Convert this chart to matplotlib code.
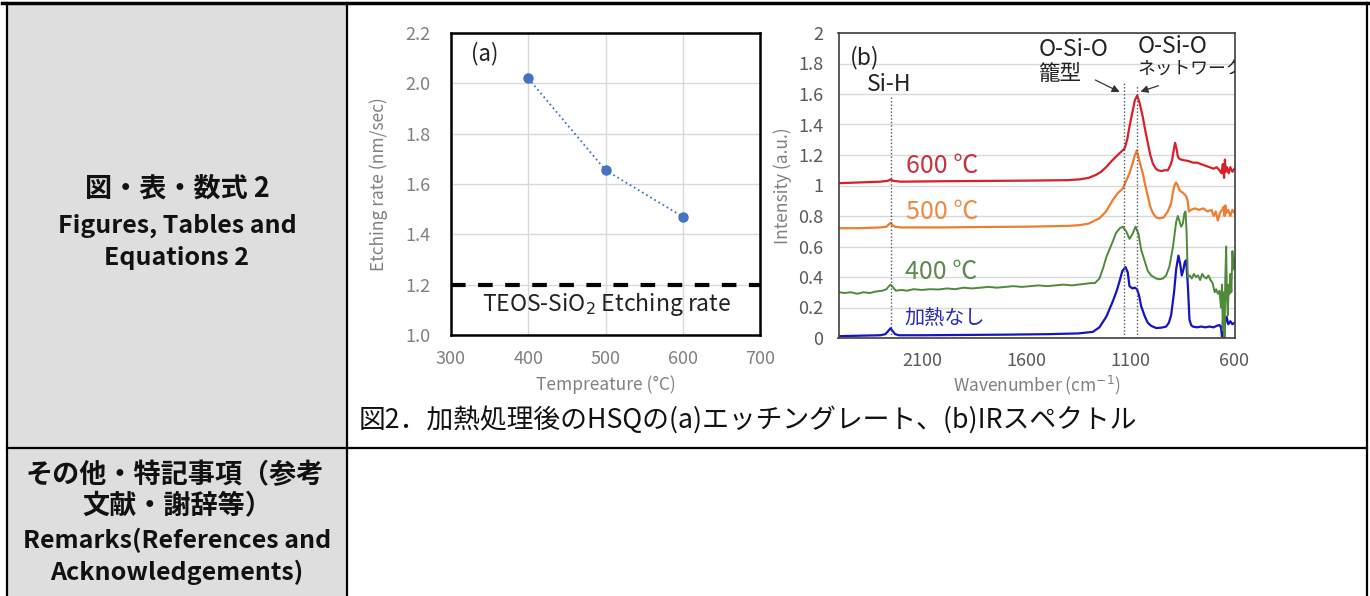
import numpy as np
import matplotlib
matplotlib.use("Agg")
import matplotlib.pyplot as plt
from matplotlib.patches import Rectangle

plt.rcParams['font.family'] = ['Noto Sans CJK JP', 'DejaVu Sans']

# ---- data: (a) etching rate ----
temps = [400, 500, 600]
rates = [2.02, 1.655, 1.47]
teos_rate = 1.2

# ---- data: (b) IR spectra (wavenumber cm-1, intensity a.u.) ----
wn_none = [2500, 2400, 2300, 2275, 2262, 2250, 2240, 2228, 2210, 2100, 1900, 1700, 1500, 1350,
           1280, 1248, 1215, 1184, 1165, 1152, 1138, 1123, 1112, 1104, 1090, 1078, 1068, 1058,
           1048, 1030, 1016, 1000, 976, 950, 928, 915, 904, 890, 880, 869, 860, 853, 845, 838,
           832, 824, 816, 808, 800, 780, 760, 740, 720, 700, 685, 672, 665, 660, 655, 650, 645,
           638, 630, 620, 610, 600]
int_none = [0.012, 0.015, 0.018, 0.025, 0.045, 0.064, 0.045, 0.025, 0.018, 0.018, 0.02, 0.022,
            0.025, 0.03, 0.04, 0.07, 0.14, 0.24, 0.31, 0.37, 0.44, 0.465, 0.43, 0.34, 0.325,
            0.33, 0.32, 0.28, 0.21, 0.14, 0.10, 0.08, 0.065, 0.068, 0.075, 0.10, 0.15, 0.30,
            0.45, 0.54, 0.48, 0.41, 0.45, 0.50, 0.51, 0.35, 0.12, 0.085, 0.075, 0.07, 0.075,
            0.07, 0.075, 0.07, 0.08, 0.085, 0.07, 0.01, 0.12, 0.06, 0.10, 0.14, 0.09, 0.11,
            0.09, 0.10]

wn_400 = [2500, 2470, 2440, 2410, 2380, 2350, 2320, 2290, 2270, 2258, 2250, 2240, 2225, 2200,
          2170, 2140, 2100, 2060, 2020, 1980, 1940, 1900, 1860, 1820, 1780, 1740, 1700, 1660,
          1620, 1580, 1540, 1500, 1460, 1420, 1380, 1350, 1320, 1290, 1270, 1248, 1230, 1215,
          1200, 1185, 1168, 1150, 1136, 1120, 1104, 1090, 1075, 1060, 1048, 1030, 1016, 1000,
          976, 960, 944, 928, 912, 895, 880, 872, 865, 856, 848, 840, 835, 830, 824, 815, 805,
          795, 785, 775, 765, 755, 745, 735, 725, 715, 705, 695, 688, 680, 672, 665, 660, 656,
          652, 648, 644, 640, 636, 632, 628, 624, 620, 615, 610, 605, 600]
int_400 = [0.30, 0.295, 0.30, 0.29, 0.30, 0.295, 0.305, 0.31, 0.32, 0.34, 0.35, 0.335, 0.31,
           0.315, 0.31, 0.32, 0.315, 0.32, 0.318, 0.325, 0.32, 0.33, 0.325, 0.33, 0.335, 0.33,
           0.335, 0.34, 0.335, 0.34, 0.345, 0.34, 0.345, 0.35, 0.345, 0.35, 0.355, 0.36, 0.36,
           0.39, 0.46, 0.53, 0.58, 0.63, 0.69, 0.72, 0.73, 0.70, 0.65, 0.68, 0.73, 0.68, 0.58,
           0.50, 0.44, 0.41, 0.39, 0.385, 0.39, 0.41, 0.47, 0.60, 0.76, 0.80, 0.77, 0.73, 0.75,
           0.82, 0.83, 0.70, 0.40, 0.41, 0.39, 0.42, 0.40, 0.41, 0.38, 0.42, 0.40, 0.39, 0.41,
           0.38, 0.36, 0.30, 0.32, 0.29, 0.31, 0.20, 0.35, 0.05, 0.30, 0.0, 0.40, 0.60, 0.25,
           0.15, 0.35, 0.29, 0.42, 0.30, 0.57, 0.45, 0.52]

wn_500 = [2500, 2400, 2300, 2270, 2258, 2250, 2242, 2230, 2200, 2000, 1800, 1600, 1400, 1344,
          1300, 1248, 1216, 1184, 1160, 1136, 1120, 1104, 1090, 1080, 1069, 1058, 1040, 1028,
          1016, 1004, 992, 976, 960, 940, 920, 905, 896, 888, 880, 872, 864, 856, 845, 832, 825,
          819, 810, 790, 770, 750, 730, 710, 700, 690, 680, 670, 660, 652, 648, 644, 640, 630,
          620, 610, 600]
int_500 = [0.72, 0.72, 0.725, 0.73, 0.745, 0.755, 0.74, 0.73, 0.725, 0.725, 0.728, 0.73, 0.735,
           0.74, 0.75, 0.785, 0.83, 0.905, 0.95, 0.98, 1.03, 1.08, 1.14, 1.19, 1.23, 1.17, 1.08,
           1.00, 0.93, 0.86, 0.82, 0.79, 0.785, 0.79, 0.83, 0.88, 0.95, 1.00, 1.02, 1.00, 0.97,
           0.96, 0.95, 0.93, 0.90, 0.83, 0.84, 0.85, 0.84, 0.85, 0.83, 0.84, 0.80, 0.83, 0.77,
           0.82, 0.84, 0.86, 0.80, 0.87, 0.82, 0.84, 0.80, 0.84, 0.82]

wn_600 = [2500, 2400, 2300, 2265, 2250, 2235, 2200, 2000, 1800, 1600, 1400, 1344, 1300, 1264,
          1240, 1216, 1190, 1168, 1145, 1128, 1115, 1104, 1090, 1078, 1067, 1055, 1040, 1028,
          1016, 1004, 992, 980, 968, 950, 935, 920, 908, 899, 892, 885, 878, 872, 864, 856, 840,
          820, 800, 780, 760, 740, 720, 700, 686, 672, 662, 656, 650, 646, 642, 636, 628, 620,
          610, 600]
int_600 = [1.015, 1.02, 1.025, 1.03, 1.04, 1.03, 1.025, 1.028, 1.03, 1.032, 1.035, 1.04, 1.05,
           1.07, 1.09, 1.12, 1.16, 1.19, 1.22, 1.24, 1.30, 1.385, 1.48, 1.56, 1.59, 1.54, 1.45,
           1.36, 1.28, 1.20, 1.145, 1.115, 1.10, 1.095, 1.10, 1.10, 1.13, 1.17, 1.23, 1.28, 1.24,
           1.19, 1.175, 1.17, 1.165, 1.16, 1.15, 1.15, 1.14, 1.13, 1.12, 1.11, 1.12, 1.10, 1.08,
           1.14, 1.05, 1.17, 1.09, 1.12, 1.08, 1.12, 1.09, 1.11]

peak_lines = [2250, 1130, 1070]
peak_tops = [1.59, 1.67, 1.65]

W, H = 1370, 596
fig = plt.figure(figsize=(W / 100, H / 100), dpi=100)

# ---- table background drawn in pixel coordinates ----
bg = fig.add_axes([0, 0, 1, 1])
bg.set_xlim(0, W)
bg.set_ylim(H, 0)
bg.axis('off')
bg.add_patch(Rectangle((7, 3), 340, H, facecolor='#dedede', edgecolor='none'))
bg.plot([2, 1368], [3, 3], color='black', lw=2.5)
bg.plot([7, 7], [3, H], color='black', lw=1.6)
bg.plot([347, 347], [3, H], color='black', lw=1.6)
bg.plot([1367, 1367], [3, H], color='black', lw=1.6)
bg.plot([7, 1367], [448, 448], color='black', lw=1.6)

cell_style = dict(ha='center', va='center', fontsize=18, fontweight='bold', color='#111111')
jp_style = dict(cell_style, fontsize=19.5)
bg.text(177, 189, '図・表・数式 2', **jp_style)
bg.text(177, 226, 'Figures, Tables and', **cell_style)
bg.text(177, 258, 'Equations 2', **cell_style)
bg.text(175, 475, 'その他・特記事項（参考', **jp_style)
bg.text(177, 506, '文献・謝辞等）', **jp_style)
bg.text(177, 540, 'Remarks(References and', **cell_style)
bg.text(177, 572, 'Acknowledgements)', **cell_style)
bg.text(359, 420, '図2．加熱処理後のHSQの(a)エッチングレート、(b)IRスペクトル', ha='left',
        va='center', fontsize=19.3, color='#111111')

# ---- (a) etching rate ----
ax1 = fig.add_axes([451 / W, 1 - 335 / H, 309 / W, 302 / H])
ax1.plot(temps, rates, ':', color='#4472c4', lw=1.3, zorder=3)
ax1.plot(temps, rates, 'o', color='#4472c4', ms=6.5, zorder=4)
ax1.axhline(teos_rate, color='black', lw=3, dashes=(3.5, 3), zorder=3)
ax1.set_xlim(300, 700)
ax1.set_ylim(1.0, 2.2)
ax1.set_xticks([300, 400, 500, 600, 700])
ax1.set_yticks(np.arange(1.0, 2.21, 0.2))
ax1.yaxis.set_major_formatter(matplotlib.ticker.FormatStrFormatter('%.1f'))
ax1.grid(True, color='#d9d9d9', lw=1)
ax1.set_axisbelow(True)
for s in ax1.spines.values():
    s.set_color('black')
    s.set_linewidth(1.8)
ax1.tick_params(axis='y', length=0, labelsize=13, colors='#808080', pad=15)
ax1.tick_params(axis='x', length=0, labelsize=13, colors='#808080', pad=11)
ax1.set_xlabel('Tempreature (°C)', fontsize=12.5, color='#808080', labelpad=5)
ax1.set_ylabel('Etching rate (nm/sec)', fontsize=12.5, color='#808080', labelpad=12)
ax1.text(344, 2.12, '(a)', fontsize=16, ha='center', va='center', color='#222222')
ax1.text(501, 1.12, 'TEOS-SiO$_2$ Etching rate', fontsize=16.5, ha='center', va='center',
         color='#222222')

# ---- (b) IR spectra ----
ax2 = fig.add_axes([838.5 / W, 1 - 338 / H, 396 / W, 305 / H])
ax2.plot(wn_none, int_none, color='#1414c0', lw=1.6)
ax2.plot(wn_400, int_400, color='#4f8a3a', lw=1.4)
ax2.plot(wn_500, int_500, color='#ed7d31', lw=1.6)
ax2.plot(wn_600, int_600, color='#d81f2a', lw=1.6)
for x, top in zip(peak_lines, peak_tops):
    ax2.plot([x, x], [0, top], color='#555555', lw=1, ls=(0, (1, 1.5)))
ax2.set_xlim(2500, 600)
ax2.set_ylim(0, 2)
ax2.set_xticks([2100, 1600, 1100, 600])
ax2.set_yticks(np.arange(0, 2.01, 0.2))
ax2.set_yticklabels(['0', '0.2', '0.4', '0.6', '0.8', '1', '1.2', '1.4', '1.6', '1.8', '2'])
ax2.grid(True, axis='y', color='#d9d9d9', lw=1)
ax2.set_axisbelow(True)
for s in ax2.spines.values():
    s.set_color('#404040')
    s.set_linewidth(1.2)
ax2.tick_params(axis='y', length=0, labelsize=13, colors='#595959', pad=11)
ax2.tick_params(axis='x', length=0, labelsize=13, colors='#595959', pad=10)
ax2.set_xlabel('Wavenumber (cm$^{-1}$)', fontsize=12.5, color='#808080', labelpad=3)
ax2.set_ylabel('Intensity (a.u.)', fontsize=12.5, color='#808080', labelpad=4)

lbl = dict(fontsize=16.5, va='center', color='#222222')
ax2.text(2375, 1.84, '(b)', ha='center', **lbl)
ax2.text(2255, 1.66, 'Si-H', ha='center', **lbl)
ax2.text(1540, 1.89, 'O-Si-O', ha='left', **lbl)
ax2.text(1540, 1.73, '籠型', ha='left', fontsize=15.5, va='center', color='#222222')
ax2.text(1065, 1.91, 'O-Si-O', ha='left', **lbl)
ax2.text(1065, 1.76, 'ネットワーク', ha='left', fontsize=12.8, va='center', color='#222222',
         clip_on=True)
ax2.annotate('', xy=(1139, 1.605), xytext=(1280, 1.70),
             arrowprops=dict(arrowstyle='-|>', color='#333333', lw=0.9, mutation_scale=11))
ax2.annotate('', xy=(1064, 1.61), xytext=(952, 1.66),
             arrowprops=dict(arrowstyle='-|>', color='#333333', lw=0.9, mutation_scale=11))

ax2.text(2175, 1.13, '600 ℃', fontsize=18, ha='left', va='center', color='#c8323c')
ax2.text(2175, 0.83, '500 ℃', fontsize=18, ha='left', va='center', color='#ed8a45')
ax2.text(2183, 0.435, '400 ℃', fontsize=18, ha='left', va='center', color='#5e8a50')
ax2.text(2183, 0.13, '加熱なし', fontsize=14.5, ha='left', va='center', color='#2a2ab8')

fig.savefig('out.png', dpi=100)
